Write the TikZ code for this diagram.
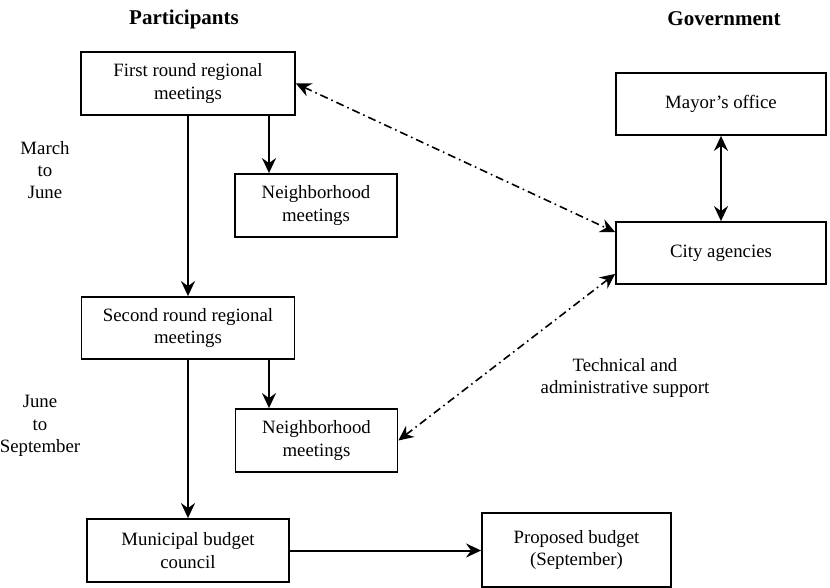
\documentclass[tikz,border=0pt]{standalone}
\usepackage{fontspec}
\setmainfont{Liberation Serif}
\usepackage{tikz}
\usetikzlibrary{arrows.meta}

\tikzset{
  box/.style={draw, line width=0.9pt, align=center, inner sep=2pt},
  flow/.style={->, >={Stealth[length=7.5pt,width=7pt,inset=2.5pt]}, line width=1pt},
  support/.style={<->, >={Stealth[length=7.5pt,width=7pt,inset=2.5pt]}, line width=0.8pt, dash pattern=on 4pt off 2pt on 0.8pt off 2pt},
  heading/.style={font=\fontsize{10.5}{12.6}\selectfont\bfseries},
  period/.style={align=center}
}

\begin{document}
\begin{tikzpicture}[x=0.5pt, y=-0.5pt, font=\fontsize{9.4}{11.2}\selectfont]
\useasboundingbox (0,0) rectangle (830,588);

\node (part) at (184,19) [heading] {Participants};
\node (gov) at (724,19) [heading] {Government};

\node (first) at (188,83.5) [box, minimum width=107pt, minimum height=31.5pt] {First round regional\\meetings};
\node (nbone) at (316,205.5) [box, minimum width=81pt, minimum height=31.5pt] {Neighborhood\\meetings};
\node (second) at (188,328) [box, minimum width=106.5pt, minimum height=31pt] {Second round regional\\meetings};
\node (nbtwo) at (316.5,440.5) [box, minimum width=81pt, minimum height=31.5pt] {Neighborhood\\meetings};
\node (council) at (188,550.5) [box, minimum width=101pt, minimum height=31.5pt] {Municipal budget\\council};
\node (budget) at (576.5,550) [box, minimum width=94.5pt, minimum height=37pt] {Proposed budget\\(September)};

\node (mayor) at (721,104) [box, minimum width=105pt, minimum height=31pt] {Mayor's office};
\node (city) at (721,253) [box, minimum width=105pt, minimum height=31pt] {City agencies};

\node (march) at (45,170) [period] {March\\to\\June};
\node (june) at (40,426) [period] {June\\to\\September};
\node (tech) at (625,378) [period] {Technical and\\administrative support};

\draw [flow] (first) -- (second);
\draw [flow] (second) -- (council);
\draw [flow] ([xshift=40.5pt]first.south) -- ([xshift=40.5pt]first.south |- nbone.north);
\draw [flow] ([xshift=40.5pt]second.south) -- ([xshift=40.5pt]second.south |- nbtwo.north);
\draw [flow] (council.east) -- (council.east -| budget.west);

\draw [flow, <->] (mayor) -- (city);
\draw [support] (first.east) -- ([yshift=-5.5pt]city.north west);
\draw [support] ([yshift=5.5pt]city.south west) -- (nbtwo.east);
\end{tikzpicture}
\end{document}
